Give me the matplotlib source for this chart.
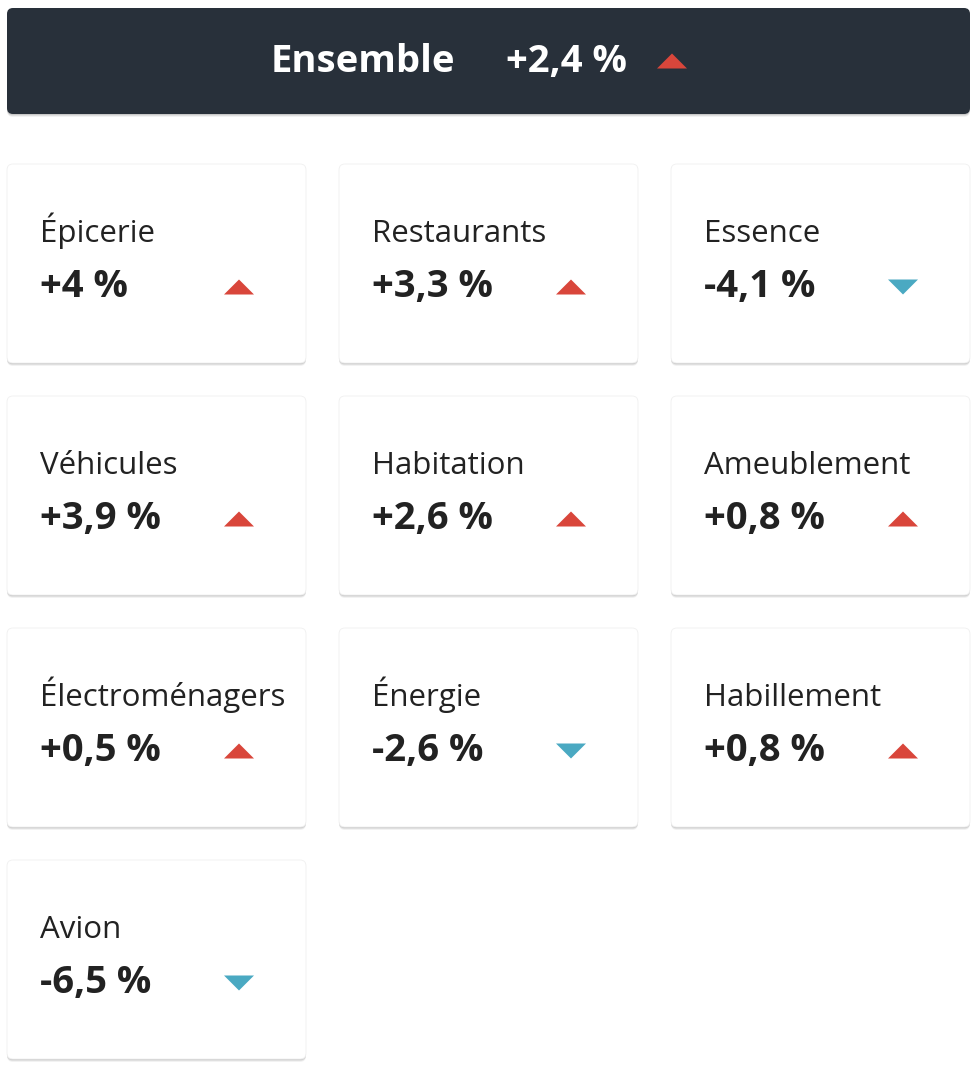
import matplotlib
matplotlib.use("Agg")
import matplotlib.pyplot as plt
from matplotlib.patches import FancyBboxPatch, Polygon

# data
total_label = "Ensemble"
total_value = 2.4
categories = ["Épicerie", "Restaurants", "Essence",
              "Véhicules", "Habitation", "Ameublement",
              "Électroménagers", "Énergie", "Habillement",
              "Avion"]
changes = [4.0, 3.3, -4.1,
           3.9, 2.6, 0.8,
           0.5, -2.6, 0.8,
           -6.5]

UP = "#d9463b"
DOWN = "#4aa9c2"
INK = "#222222"
HEAD_BG = "#28303a"

plt.rcParams["font.family"] = ["Open Sans", "DejaVu Sans"]


def fmt(v):
    if v == int(v):
        s = "%+d" % int(v)
    else:
        s = "%+.1f" % v
    return s.replace(".", ",") + " %"


def triangle(ax, cx, cy, up, w=30, h=15):
    if up:
        pts = [(cx - w / 2, cy + h / 2), (cx + w / 2, cy + h / 2), (cx, cy - h / 2)]
        col = UP
    else:
        pts = [(cx - w / 2, cy - h / 2), (cx + w / 2, cy - h / 2), (cx, cy + h / 2)]
        col = DOWN
    ax.add_patch(Polygon(pts, closed=True, color=col, lw=0, zorder=5))


def box(ax, x, y, w, h, fc, ec="none", r=6):
    # soft shadow then the card
    for off, a in [(3, 0.05), (2, 0.08), (1, 0.10)]:
        ax.add_patch(FancyBboxPatch((x, y + off), w, h,
                                    boxstyle="round,pad=0,rounding_size=%d" % r,
                                    fc="black", ec="none", alpha=a, zorder=1))
    ax.add_patch(FancyBboxPatch((x, y), w, h,
                                boxstyle="round,pad=0,rounding_size=%d" % r,
                                fc=fc, ec=ec, lw=0.6, zorder=2))


fig = plt.figure(figsize=(9.78, 10.72), dpi=100)
ax = fig.add_axes([0, 0, 1, 1])
ax.set_xlim(0, 978)
ax.set_ylim(1072, 0)
ax.axis("off")

# header
box(ax, 7, 8, 963, 106, HEAD_BG)
ax.text(455, 72, total_label, color="white", fontsize=27.5, fontweight="bold",
        ha="right", va="baseline", zorder=6)
ax.text(506, 72, fmt(total_value), color="white", fontsize=27.5, fontweight="bold",
        ha="left", va="baseline", zorder=6)
triangle(ax, 672, 61, total_value >= 0)

# cards
card_w, card_h = 299, 199
col_x = [7, 339, 671]
row_y = [164, 396, 628, 860]

for i, (name, v) in enumerate(zip(categories, changes)):
    x = col_x[i % 3]
    y = row_y[i // 3]
    box(ax, x, y, card_w, card_h, "white", ec="#f0f0f0")
    ax.text(x + 33, y + 78, name, color=INK, fontsize=22.5,
            ha="left", va="baseline", zorder=6)
    ax.text(x + 33, y + 133, fmt(v), color=INK, fontsize=27.5, fontweight="bold",
            ha="left", va="baseline", zorder=6)
    triangle(ax, x + 232, y + 123, v >= 0)

fig.savefig("out.png", dpi=100)
